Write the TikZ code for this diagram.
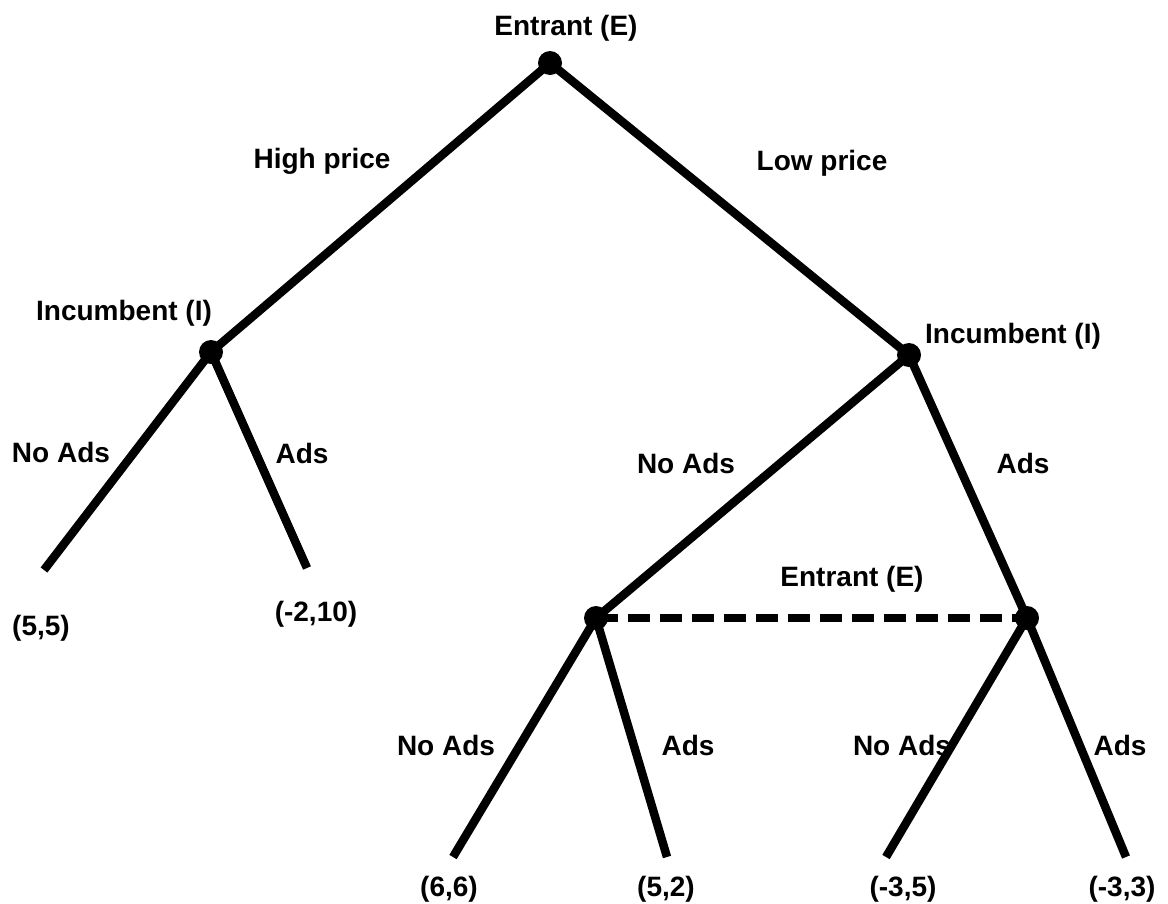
\documentclass[tikz,border=0pt]{standalone}
\usepackage{fontspec}
\setmainfont{Liberation Sans}
\begin{document}
\begin{tikzpicture}[x=1pt,y=-1pt,
  branch/.style={line width=8.5pt,line cap=butt},
  info/.style={line width=8.5pt,dash pattern=on 22pt off 10pt},
  lbl/.style={font=\fontsize{28}{33}\selectfont\bfseries,inner sep=0pt,text height=20.4pt,text depth=0pt}]
\useasboundingbox (0,0) rectangle (1168,903);
% decision nodes
\coordinate (E) at (550,63);
\coordinate (IL) at (211,352);
\coordinate (IR) at (909,355);
\coordinate (EL) at (596,618);
\coordinate (ER) at (1027,618);
% terminal ends
\coordinate (t1) at (44,570);
\coordinate (t2) at (307,568);
\coordinate (t3) at (453,857);
\coordinate (t4) at (667,857);
\coordinate (t5) at (886,857);
\coordinate (t6) at (1126,857);
% branches
\draw[branch] (E) -- (IL);
\draw[branch] (E) -- (IR);
\draw[branch] (IL) -- (t1);
\draw[branch] (IL) -- (t2);
\draw[branch] (IR) -- (EL);
\draw[branch] (IR) -- (ER);
\draw[branch] (EL) -- (t3);
\draw[branch] (EL) -- (t4);
\draw[branch] (ER) -- (t5);
\draw[branch] (ER) -- (t6);
\draw[info] (EL) -- (ER);
% dots on top
\foreach \n in {E,IL,IR,EL,ER} \fill (\n) circle (12pt);
% labels
\node[lbl] (lE) at (566,25) {Entrant (E)};
\node[lbl] (lHP) at (322,158) {High price};
\node[lbl] (lLP) at (822,160) {Low price};
\node[lbl] (lIL) at (124,310) {Incumbent (I)};
\node[lbl] (lIR) at (1013,333) {Incumbent (I)};
\node[lbl] (a1) at (61,452) {No Ads};
\node[lbl] (a2) at (302,453) {Ads};
\node[lbl] (a3) at (686,463) {No Ads};
\node[lbl] (a4) at (1023,463) {Ads};
\node[lbl] (lEm) at (852,576) {Entrant (E)};
\node[lbl] (p1) at (41,625) {(5,5)};
\node[lbl] (p2) at (316,611) {(-2,10)};
\node[lbl] (a5) at (446,745) {No Ads};
\node[lbl] (a6) at (688,745) {Ads};
\node[lbl] (a7) at (902,745) {No Ads};
\node[lbl] (a8) at (1120,745) {Ads};
\node[lbl] (p3) at (449,886) {(6,6)};
\node[lbl] (p4) at (666,886) {(5,2)};
\node[lbl] (p5) at (903,886) {(-3,5)};
\node[lbl] (p6) at (1122,886) {(-3,3)};
\end{tikzpicture}
\end{document}
